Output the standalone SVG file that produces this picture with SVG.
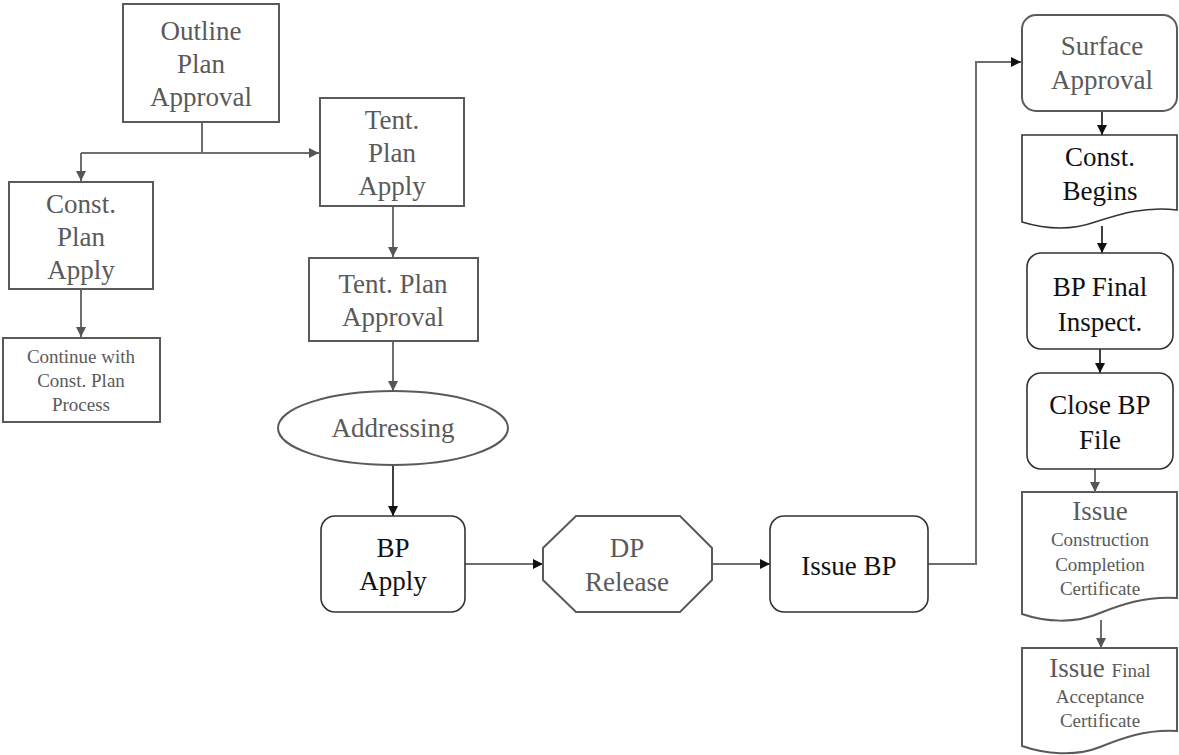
<svg xmlns="http://www.w3.org/2000/svg" width="1179" height="755" viewBox="0 0 1179 755">
<defs>
<marker id="ag" viewBox="0 0 10 10" refX="10" refY="5" markerWidth="10" markerHeight="10" markerUnits="userSpaceOnUse" orient="auto"><path d="M0,0 L10,5 L0,10 Z" fill="#555"/></marker>
<marker id="ak" viewBox="0 0 10 10" refX="10" refY="5" markerWidth="10" markerHeight="10" markerUnits="userSpaceOnUse" orient="auto"><path d="M0,0 L10,5 L0,10 Z" fill="#111"/></marker>
</defs>
<style>
.g{fill:#fff;stroke:#5a5a5a;stroke-width:2}
.k{fill:#fff;stroke:#333;stroke-width:1.6}
text{font-family:"Liberation Serif",Tinos,"Times New Roman","DejaVu Serif","Noto Serif",FreeSerif,serif;font-size:27px;text-anchor:middle}
.tg{fill:#5a5a5a}
.tk{fill:#111}
.s{font-size:19px}
.cg{fill:none;stroke:#6e6e6e;stroke-width:2}
.ck{fill:none;stroke:#111;stroke-width:1.6}
</style>
<g id="connectors">
<path class="cg" d="M202,122 V153"/>
<path class="cg" d="M81,153 H319" marker-end="url(#ag)"/>
<path class="cg" d="M81,153 V181" marker-end="url(#ag)"/>
<path class="cg" d="M81,289 V337" marker-end="url(#ag)"/>
<path class="cg" d="M393,206 V257" marker-end="url(#ag)"/>
<path class="cg" d="M393,341 V391" marker-end="url(#ag)"/>
<path class="ck" d="M393,465 V516" marker-end="url(#ak)"/>
<path class="cg" d="M465,564 H543" marker-end="url(#ak)"/>
<path class="cg" d="M712,564 H770" marker-end="url(#ak)"/>
<path class="cg" d="M928,564 H976 V62 H1021" marker-end="url(#ak)"/>
<path class="ck" d="M1102,111 V135" marker-end="url(#ak)"/>
<path class="ck" d="M1102,226 V253" marker-end="url(#ak)"/>
<path class="ck" d="M1100,349 V373" marker-end="url(#ak)"/>
<path class="cg" d="M1095,469 V492" marker-end="url(#ag)"/>
<path class="cg" d="M1101,620 V648" marker-end="url(#ag)"/>
</g>
<g id="outline-plan-approval">
<rect class="g" x="123" y="4" width="156" height="118"/>
<text class="tg" x="201" y="40">Outline</text>
<text class="tg" x="201" y="73">Plan</text>
<text class="tg" x="201" y="106">Approval</text>
</g>
<g id="tent-plan-apply">
<rect class="g" x="320" y="98" width="144" height="108"/>
<text class="tg" x="392" y="129">Tent.</text>
<text class="tg" x="392" y="162">Plan</text>
<text class="tg" x="392" y="195">Apply</text>
</g>
<g id="const-plan-apply">
<rect class="g" x="9" y="182" width="144" height="107"/>
<text class="tg" x="81" y="213">Const.</text>
<text class="tg" x="81" y="246">Plan</text>
<text class="tg" x="81" y="279">Apply</text>
</g>
<g id="continue-const">
<rect class="g" x="3" y="338" width="157" height="84"/>
<text class="tg s" x="81" y="363">Continue with</text>
<text class="tg s" x="81" y="387">Const. Plan</text>
<text class="tg s" x="81" y="411">Process</text>
</g>
<g id="tent-plan-approval">
<rect class="g" x="309" y="258" width="169" height="83"/>
<text class="tg" x="393" y="293">Tent. Plan</text>
<text class="tg" x="393" y="326">Approval</text>
</g>
<g id="addressing">
<ellipse class="g" cx="393" cy="428" rx="115" ry="37" stroke-width="1.4"/>
<text class="tg" x="393" y="437">Addressing</text>
</g>
<g id="bp-apply">
<rect class="k" x="321" y="516" width="144" height="96" rx="14"/>
<text class="tk" x="393" y="557">BP</text>
<text class="tk" x="393" y="590">Apply</text>
</g>
<g id="dp-release">
<polygon class="g" points="576,516 680,516 712,548 712,580 680,612 576,612 543,580 543,548" stroke-width="1.4"/>
<text class="tg" x="627" y="557">DP</text>
<text class="tg" x="627" y="591">Release</text>
</g>
<g id="issue-bp">
<rect class="k" x="770" y="516" width="158" height="96" rx="14"/>
<text class="tk" x="849" y="575">Issue BP</text>
</g>
<g id="surface-approval">
<rect class="g" x="1022" y="15" width="155" height="96" rx="14" stroke-width="1.4"/>
<text class="tg" x="1102" y="55">Surface</text>
<text class="tg" x="1102" y="89">Approval</text>
</g>
<g id="const-begins">
<path class="k" d="M1022,135 H1177 V210 C1145,206 1120,214 1095,222 C1070,231 1045,229 1022,222 Z"/>
<text class="tk" x="1100" y="166">Const.</text>
<text class="tk" x="1100" y="200">Begins</text>
</g>
<g id="bp-final-inspect">
<rect class="k" x="1027" y="253" width="146" height="96" rx="14"/>
<text class="tk" x="1100" y="296">BP Final</text>
<text class="tk" x="1100" y="331">Inspect.</text>
</g>
<g id="close-bp-file">
<rect class="k" x="1027" y="373" width="146" height="96" rx="14"/>
<text class="tk" x="1100" y="414">Close BP</text>
<text class="tk" x="1100" y="449">File</text>
</g>
<g id="issue-ccc">
<path class="g" stroke-width="1.4" d="M1022,492 H1177 V598 C1145,596 1120,605 1100,613 C1075,624 1045,622 1022,614 Z"/>
<text class="tg" x="1100" y="520">Issue</text>
<text class="tg s" x="1100" y="546">Construction</text>
<text class="tg s" x="1100" y="571">Completion</text>
<text class="tg s" x="1100" y="595">Certificate</text>
</g>
<g id="issue-fac">
<path class="g" stroke-width="1.4" d="M1022,648 H1177 V731 C1145,729 1120,739 1100,747 C1075,757 1045,754 1022,746 Z"/>
<text class="tg" x="1100" y="677">Issue <tspan class="s">Final</tspan></text>
<text class="tg s" x="1100" y="703">Acceptance</text>
<text class="tg s" x="1100" y="727">Certificate</text>
</g>
</svg>
